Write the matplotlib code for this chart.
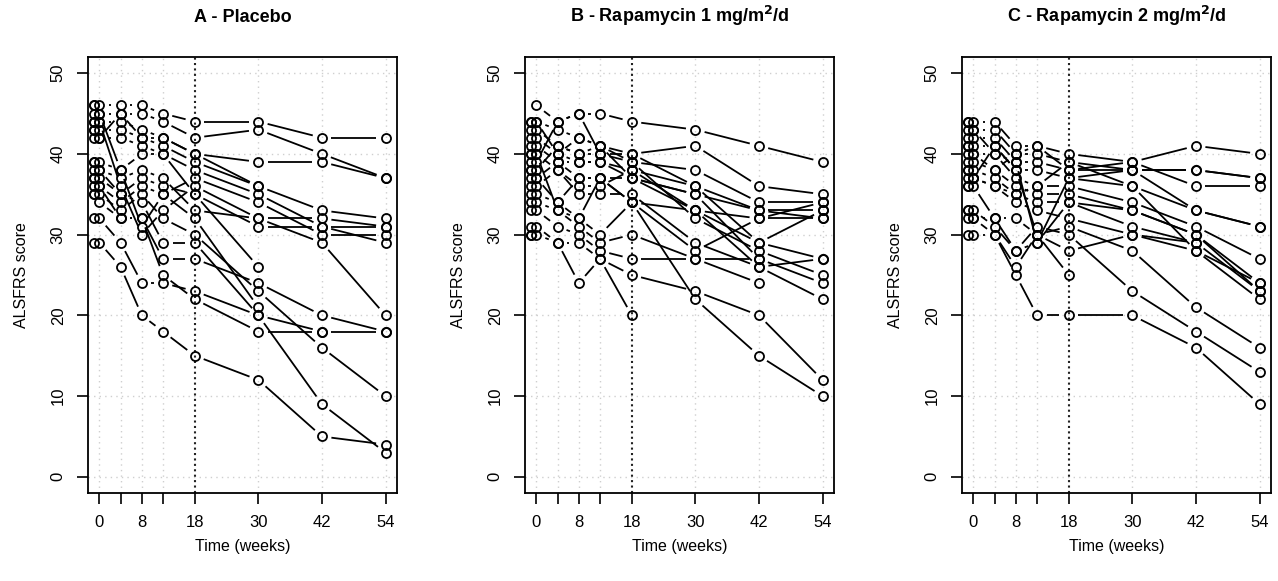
import numpy as np
import matplotlib
matplotlib.use("Agg")
import matplotlib.pyplot as plt
from matplotlib.collections import LineCollection

plt.rcParams['font.family'] = ['Liberation Sans', 'DejaVu Sans']

# visit times (weeks), screening visit just before baseline
weeks = [-1, 0, 4, 8, 12, 18, 30, 42, 54]
tick_weeks = [0, 4, 8, 12, 18, 30, 42, 54]
tick_labels = ['0', '', '8', '', '18', '30', '42', '54']

N = None
placebo = [
    [46, 46, 46, 46, 45, 44, 44, 42, 42],
    [45, 45, 45, 45, 44, 42, 43, 40, 37],
    [44, 44, 44, 43, 42, 40, 39, 39, 37],
    [43, 43, 43, 42, 41, 39, 36, 33, 32],
    [42, 42, 42, 41, 40, 38, 35, 31, 29],
    [46, 45, 38, 31, 35, 37, 34, 30, 30],
    [44, 44, 36, 30, 33, 36, 32, 32, 31],
    [39, 39, 38, 40, 40, 35, 31, 31, 31],
    [38, 38, 37, 38, 37, 33, 32, 29, 20],
    [37, 37, 35, 37, 36, 35, 26, N, N],
    [36, 36, 34, 36, 35, 32, 21, N, N],
    [35, 35, 33, 35, 32, 30, 23, 16, 10],
    [39, 38, 35, 34, 29, 29, 20, 9, 3],
    [37, 36, 32, 32, 27, 27, 24, 20, 18],
    [35, 34, 32, 32, 25, 22, 18, 18, 18],
    [32, 32, 29, 24, 24, 23, 20, 18, N],
    [29, 29, 26, 20, 18, 15, 12, 5, 4],
    [43, 42, 45, 42, 42, 40, 36, N, N],
]

rapa1 = [
    [44, 46, 44, 45, 45, 44, 43, 41, 39],
    [43, 44, 43, 42, 41, 40, 41, 36, 35],
    [42, 43, 41, 40, 40, 39, 38, 34, 34],
    [41, 42, 40, 39, 39, 38, 36, 33, 33],
    [40, 41, 39, 37, 37, 37, 35, 33, 32],
    [39, 40, 38, 36, 36, 38, 33, 32, 34],
    [38, 39, 44, 45, 40, 40, 36, 29, 27],
    [37, 38, 41, 40, 41, 39, 32, 28, 25],
    [36, 37, 39, 39, 39, 37, 35, 27, 24],
    [35, 36, 38, 35, 35, 35, 29, 26, 22],
    [34, 35, 34, 32, 30, 34, 28, 32, 32],
    [33, 34, 33, 31, 29, 30, 27, 27, N],
    [31, 33, 31, 30, 28, 27, 27, 24, N],
    [30, 31, 29, 24, 27, 25, 23, 20, 12],
    [30, 30, 29, 29, 27, 20, N, N, N],
    [44, 44, 40, 42, 41, 37, 33, 29, 33],
    [40, 40, 33, 32, 37, 34, 33, 26, 27],
    [38, 37, 34, 37, 37, 34, 22, 15, 10],
]

rapa2 = [
    [44, 44, 44, 41, 41, 40, 39, 41, 40],
    [43, 43, 43, 40, 40, 39, 38, 38, 37],
    [42, 42, 42, 39, 39, 38, 39, 36, 36],
    [41, 41, 41, 38, 38, 37, 38, 33, 31],
    [40, 40, 40, 37, 36, 36, 34, 31, 27],
    [39, 39, 38, 36, 35, 35, 33, 30, 24],
    [38, 38, 37, 35, 34, 34, 31, 29, 23],
    [37, 37, 36, 34, 33, 32, 30, 28, 22],
    [36, 36, 32, 32, 30, 31, 28, 21, 16],
    [33, 33, 31, 28, 31, 30, 23, 18, 13],
    [32, 32, 30, 26, 30, 28, 30, 29, N],
    [30, 30, 30, 25, 20, 20, 20, 16, 9],
    [44, 43, 40, 39, 29, 37, 36, 33, 31],
    [36, 37, 41, 38, 30, 25, N, N, N],
    [41, 40, 38, 40, 41, 38, 38, 38, 37],
    [38, 37, 36, 35, 36, 39, 36, 28, 24],
    [33, 32, 32, 28, 29, 34, 33, 30, 23],
]

titles = ['A - Placebo', r'B - Rapamycin 1 mg/m$^{\mathbf{2}}$/d', r'C - Rapamycin 2 mg/m$^{\mathbf{2}}$/d']
groups = [placebo, rapa1, rapa2]
lefts = [88, 525, 962]

W, H = 1278, 581
fig = plt.figure(figsize=(W / 100, H / 100), dpi=100)
plt.rcParams['mathtext.default'] = 'bf'

gap = 9.5  # pixels left empty around each point, as in R type="b"

for g, data in enumerate(groups):
    ax = fig.add_axes([lefts[g] / W, (H - 493) / H, 309 / W, (493 - 57) / H])
    ax.set_xlim(-2.16, 56.16)
    ax.set_ylim(-2, 52)
    for x in tick_weeks:
        if x != 18:
            ax.axvline(x, color='#cfcfcf', lw=1, ls=(0, (1, 3)), zorder=0)
    for y in range(0, 51, 10):
        ax.axhline(y, color='#cfcfcf', lw=1, ls=(0, (1, 3)), zorder=0)
    ax.axvline(18, color='#222222', lw=1.5, ls=(0, (1, 1.6)), zorder=1)

    segs = []
    for row in data:
        pts = [(t, v) for t, v in zip(weeks, row)]
        for (t0, v0), (t1, v1) in zip(pts[:-1], pts[1:]):
            if v0 is None or v1 is None:
                continue
            p0 = ax.transData.transform((t0, v0))
            p1 = ax.transData.transform((t1, v1))
            d = p1 - p0
            L = np.hypot(d[0], d[1])
            if L <= 2 * gap:
                continue
            u = d / L
            a = ax.transData.inverted().transform(p0 + gap * u)
            b = ax.transData.inverted().transform(p1 - gap * u)
            segs.append([a, b])
        xs = [t for t, v in pts if v is not None]
        ys = [v for t, v in pts if v is not None]
        ax.plot(xs, ys, ls='none', marker='o', ms=6.5, mfc='none', mec='black', mew=1.3, zorder=3)
    ax.add_collection(LineCollection(segs, colors='black', linewidths=1.3, zorder=2))

    ax.set_xticks(tick_weeks)
    ax.set_xticklabels(tick_labels)
    ax.set_yticks(range(0, 51, 10))
    ax.set_yticklabels([str(v) for v in range(0, 51, 10)], rotation=90, va='center')
    ax.tick_params(direction='out', length=8, width=1.2, labelsize=12, pad=8)
    for s in ax.spines.values():
        s.set_linewidth(1.3)
    ax.set_xlabel('Time (weeks)', fontsize=11.5, labelpad=6)
    ax.set_ylabel('ALSFRS score', fontsize=11.5, labelpad=16)
    ax.set_title(titles[g], fontsize=13, fontweight='bold', pad=25)

fig.savefig('out.png', dpi=100)
